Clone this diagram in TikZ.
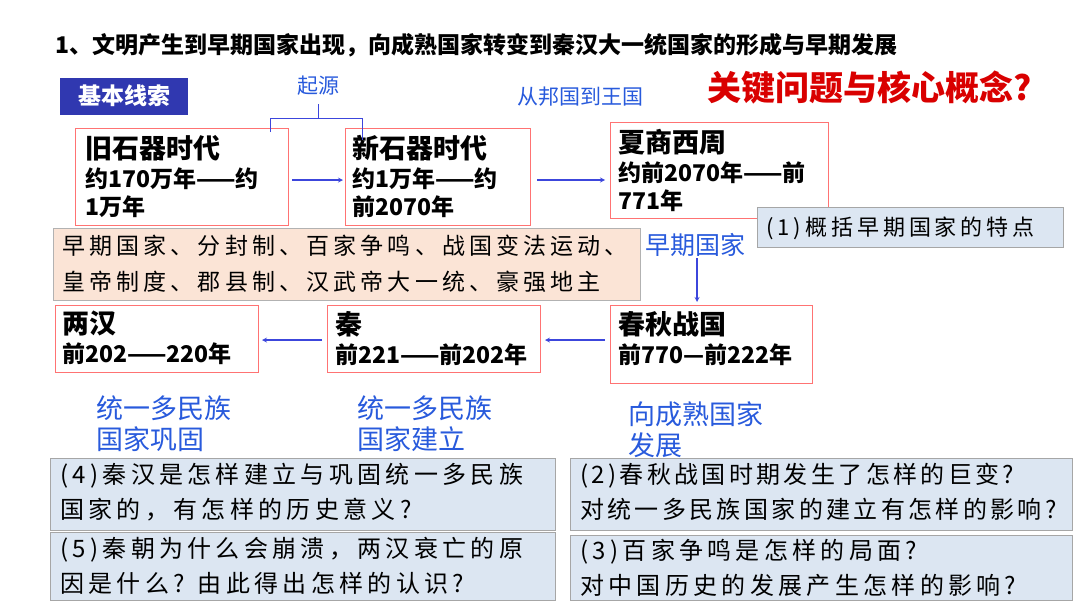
\documentclass[tikz,border=0pt]{standalone}
\usepackage{fontspec}
\setmainfont{Noto Sans CJK SC}
\newfontfamily\spaced[LetterSpace=18]{Noto Sans CJK SC}
\newfontfamily\tighter[LetterSpace=14]{Noto Sans CJK SC}
\usetikzlibrary{positioning}
\definecolor{lineblue}{RGB}{60,70,220}
\definecolor{txtblue}{RGB}{40,90,220}
\definecolor{qfill}{RGB}{220,230,242}
\definecolor{peach}{RGB}{251,228,214}
\tikzset{
  era/.style={draw=red!55, line width=1pt, fill=white},
  qbox/.style={draw=gray!70, line width=0.8pt, fill=qfill},
  big/.style={font=\fontsize{27}{32}\selectfont\bfseries, anchor=north west, inner sep=0pt},
  dat/.style={font=\fontsize{23}{28}\selectfont\bfseries, anchor=north west, inner sep=0pt, align=left},
  qt/.style={font=\spaced\fontsize{24}{35}\selectfont, anchor=north west, inner sep=0pt, align=left},
  stage/.style={font=\fontsize{27}{31}\selectfont, text=txtblue, anchor=north west, inner sep=0pt, align=left},
  flow/.style={->, >=stealth, draw=lineblue, line width=1.2pt}
}
\begin{document}
\begin{tikzpicture}[x=1pt,y=-1pt]
  \useasboundingbox (0,0) rectangle (1080,608);
  % title
  \node[font=\fontsize{23}{26}\selectfont\bfseries, anchor=west, inner sep=0pt] (title) at (55,45)
    {1、文明产生到早期国家出现，向成熟国家转变到秦汉大一统国家的形成与早期发展};
  \node[fill=lineblue!80!black, text=white, font=\fontsize{23}{26}\selectfont\bfseries,
    minimum width=128pt, minimum height=37pt, inner sep=0pt] (basic) at (124,96) {基本线索};
  \node[font=\fontsize{21}{24}\selectfont, text=txtblue] (origin) at (318,86) {起源};
  \node[font=\fontsize{21}{24}\selectfont, text=txtblue] (bang) at (580,97) {从邦国到王国};
  \node[font=\fontsize{34}{38}\selectfont\bfseries, text=red!85!black] (key) at (870,88) {关键问题与核心概念?};
  % eras
  \draw[era] (75,128) rectangle (288,225);
  \node[big] (e1) at (85,135) {旧石器时代};
  \node[dat, below=6pt of e1.south west, anchor=north west] (d1) {约170万年——约\\1万年};
  \draw[era] (345,128) rectangle (530,225);
  \node[big] (e2) at (352,135) {新石器时代};
  \node[dat, below=6pt of e2.south west, anchor=north west] (d2) {约1万年——约\\前2070年};
  \draw[era] (610,122) rectangle (828,218);
  \node[big] (e3) at (618,129) {夏商西周};
  \node[dat, below=6pt of e3.south west, anchor=north west] (d3) {约前2070年——前\\771年};
  % brace
  \draw[lineblue, line width=1pt] (270,132) -- (270,118) -- (362,118) -- (362,140);
  \draw[lineblue, line width=1pt] (318,118) -- (318,104);
  \coordinate (a1) at (292,180); \coordinate (a2) at (343,180);
  \coordinate (b1) at (537,180); \coordinate (b2) at (605,180);
  \draw[flow] (a1) -- (a2);
  \draw[flow] (b1) -- (b2);
  % concepts
  \draw[qbox] (757,207) rectangle (1063,247);
  \node[font=\spaced\fontsize{22}{24}\selectfont, anchor=west, inner sep=0pt] (q1) at (766,228) {(1)概括早期国家的特点};
  \draw[draw=gray!60, fill=peach] (53,228) rectangle (640,300);
  \node[font=\spaced\fontsize{23}{36}\selectfont, anchor=north west, inner sep=0pt, align=left] (concepts) at (62,235)
    {早期国家、分封制、百家争鸣、战国变法运动、\\皇帝制度、郡县制、汉武帝大一统、豪强地主};
  \node[font=\fontsize{25}{28}\selectfont, text=txtblue] (early) at (695,245) {早期国家};
  \coordinate (c1) at (697,258); \coordinate (c2) at (697,302);
  \draw[flow] (c1) -- (c2);
  % second row
  \draw[era] (610,305) rectangle (812,383);
  \node[big] (e4) at (618,311) {春秋战国};
  \node[dat, below=6pt of e4.south west, anchor=north west] (d4) {前770—前222年};
  \draw[era] (327,305) rectangle (540,372);
  \node[big] (e5) at (335,311) {秦};
  \node[dat, below=6pt of e5.south west, anchor=north west] (d5) {前221——前202年};
  \draw[era] (55,305) rectangle (258,372);
  \node[big] (e6) at (62,311) {两汉};
  \node[dat, below=6pt of e6.south west, anchor=north west] (d6) {前202——220年};
  \coordinate (f1) at (605,340); \coordinate (f2) at (545,340);
  \coordinate (g1) at (322,340); \coordinate (g2) at (262,340);
  \draw[flow] (f1) -- (f2);
  \draw[flow] (g1) -- (g2);
  % stages
  \node[stage] (s1) at (96,396) {统一多民族\\国家巩固};
  \node[stage] (s2) at (357,396) {统一多民族\\国家建立};
  \node[stage] (s3) at (628,401) {向成熟国家\\发展};
  % questions
  \draw[qbox] (50,458) rectangle (555,530);
  \node[qt] (q4) at (60,463) {(4)秦汉是怎样建立与巩固统一多民族\\国家的，有怎样的历史意义?};
  \draw[qbox] (50,532) rectangle (555,600);
  \node[qt] (q5) at (60,537) {(5)秦朝为什么会崩溃，两汉衰亡的原\\因是什么? 由此得出怎样的认识?};
  \draw[qbox] (570,458) rectangle (1072,530);
  \node[qt, font=\tighter\fontsize{24}{35}\selectfont] (q2) at (580,463) {(2)春秋战国时期发生了怎样的巨变?\\对统一多民族国家的建立有怎样的影响?};
  \draw[qbox] (570,535) rectangle (1072,600);
  \node[qt] (q3) at (580,539) {(3)百家争鸣是怎样的局面?\\对中国历史的发展产生怎样的影响?};
\end{tikzpicture}
\end{document}
